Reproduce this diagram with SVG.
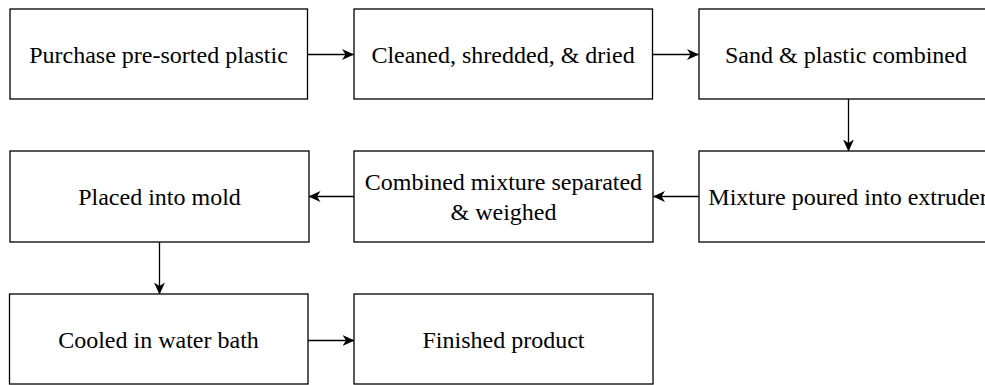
<svg xmlns="http://www.w3.org/2000/svg" width="985" height="385" viewBox="0 0 985 385">
  <style>
    .box { fill: #ffffff; stroke: #000000; stroke-width: 1.3; }
    .label { font-family: "Liberation Serif", "Times New Roman", serif; font-size: 24px; fill: #000000; text-anchor: middle; }
    .edge { fill: none; stroke: #000000; stroke-width: 1.3; }
  </style>
  <defs>
    <marker id="arrow" viewBox="0 0 12 11" refX="11.5" refY="5.5" markerWidth="12" markerHeight="11" markerUnits="userSpaceOnUse" orient="auto">
      <path d="M0,0 L12,5.5 L0,11 L3.5,5.5 Z" fill="#000000"/>
    </marker>
  </defs>
  <rect width="985" height="385" fill="#ffffff"/>

  <g id="connectors">
    <line class="edge" x1="307.5" y1="54.5" x2="353.5" y2="54.5" marker-end="url(#arrow)"/>
    <line class="edge" x1="652.5" y1="54.5" x2="698.5" y2="54.5" marker-end="url(#arrow)"/>
    <line class="edge" x1="848.5" y1="99" x2="848.5" y2="151" marker-end="url(#arrow)"/>
    <line class="edge" x1="699" y1="196.5" x2="653.5" y2="196.5" marker-end="url(#arrow)"/>
    <line class="edge" x1="354" y1="196.5" x2="309" y2="196.5" marker-end="url(#arrow)"/>
    <line class="edge" x1="159.5" y1="242" x2="159.5" y2="294" marker-end="url(#arrow)"/>
    <line class="edge" x1="308" y1="340.5" x2="354" y2="340.5" marker-end="url(#arrow)"/>
  </g>

  <g id="node-purchase">
    <rect class="box" x="10" y="9" width="297.5" height="90"/>
    <text class="label" x="158.5" y="62.5">Purchase pre-sorted plastic</text>
  </g>
  <g id="node-cleaned">
    <rect class="box" x="354" y="9" width="298.5" height="90"/>
    <text class="label" x="503" y="62.5">Cleaned, shredded, &amp; dried</text>
  </g>
  <g id="node-sand">
    <rect class="box" x="699" y="9" width="298" height="90"/>
    <text class="label" x="846" y="62.5">Sand &amp; plastic combined</text>
  </g>
  <g id="node-extruder">
    <rect class="box" x="699" y="151" width="298" height="91"/>
    <text class="label" x="848" y="205">Mixture poured into extruder</text>
  </g>
  <g id="node-separated">
    <rect class="box" x="354" y="151" width="299" height="91"/>
    <text class="label" x="503.5" y="190">Combined mixture separated</text>
    <text class="label" x="503.5" y="219.5">&amp; weighed</text>
  </g>
  <g id="node-mold">
    <rect class="box" x="10" y="151" width="299" height="91"/>
    <text class="label" x="159.5" y="205">Placed into mold</text>
  </g>
  <g id="node-cooled">
    <rect class="box" x="9.5" y="294" width="298.5" height="90"/>
    <text class="label" x="158.5" y="348">Cooled in water bath</text>
  </g>
  <g id="node-finished">
    <rect class="box" x="354" y="294" width="299" height="90"/>
    <text class="label" x="503.5" y="348">Finished product</text>
  </g>
</svg>
